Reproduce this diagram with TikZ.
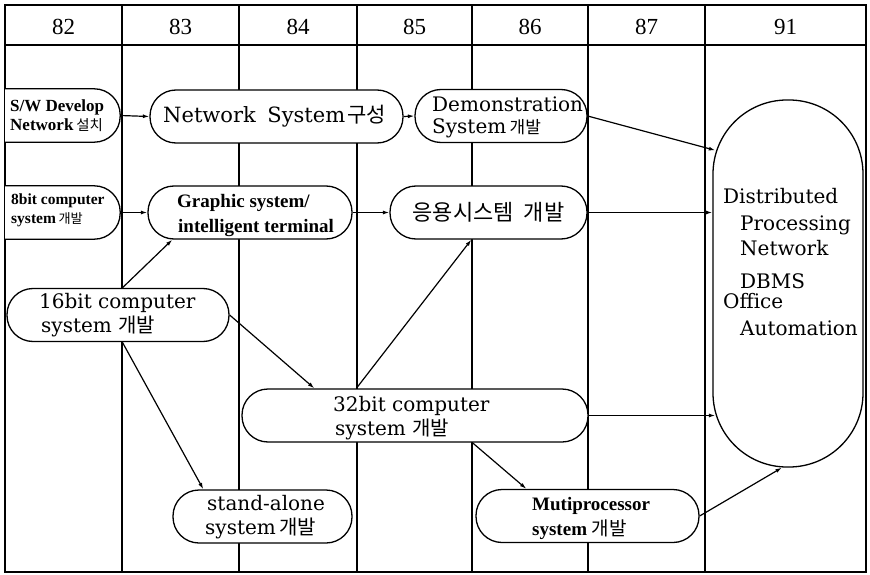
\documentclass[tikz,border=0pt]{standalone}
\usepackage{fontspec}
\setmainfont{Liberation Serif}
\newfontfamily\wideserif{DejaVu Serif}
\newfontfamily\hangul{Noto Sans CJK KR}
\newfontfamily\hangulsmall[Scale=0.85]{Noto Sans CJK KR}
\usetikzlibrary{arrows.meta}
\newcommand\hg[1]{{\hangul\mdseries #1}}
\newcommand\hgs[1]{{\hangulsmall\mdseries #1}}

\begin{document}
\begin{tikzpicture}[x=1pt,y=-1pt,
  rule/.style={line width=1.3pt},
  pill/.style={draw, fill=white, line width=1.3pt, rounded corners=26pt,
    minimum width=#1, minimum height=53pt, inner sep=0pt},
  halfpill/.style={fill=white, minimum width=#1, minimum height=53pt, inner sep=0pt},
  t/.style={anchor=base west, inner sep=0pt},
  hdr/.style={anchor=base, inner sep=0pt, font=\fontsize{23}{25}\selectfont},
  boldsmall/.style={font=\fontsize{17}{19}\selectfont\bfseries},
  boldtiny/.style={font=\fontsize{15.5}{18}\selectfont\bfseries},
  boldmid/.style={font=\fontsize{19}{21}\selectfont\bfseries},
  wide/.style={font=\wideserif\fontsize{20}{22}\selectfont},
  widebig/.style={font=\wideserif\fontsize{21}{23}\selectfont},
  arr/.style={line width=1.2pt, -{Latex[length=6.5pt,width=4pt]}},
]
\useasboundingbox (0,0) rectangle (870,575);

% table frame, header row and year columns
\draw[rule] (5,5) rectangle (866,572);
\draw[rule] (5,45) -- (866,45);
\foreach \cx in {122,239,357,472,588,705}
  \draw[rule] (\cx,5) -- (\cx,572);

% year headings
\node[hdr] (h82) at (63.5,35) {82};
\node[hdr] (h83) at (180.5,35) {83};
\node[hdr] (h84) at (298,35) {84};
\node[hdr] (h85) at (414.5,35) {85};
\node[hdr] (h86) at (530,35) {86};
\node[hdr] (h87) at (646.5,35) {87};
\node[hdr] (h91) at (785.5,35) {91};

% boxes that start at the left edge of the table (rounded on the right only)
\node[halfpill=115pt] (sw) at (62.5,115.5) {};
\draw[rule, rounded corners=26pt] (sw.north west) -- (sw.north east) -- (sw.south east) -- (sw.south west);
\node[halfpill=115pt] (b8) at (62.5,212.5) {};
\draw[rule, rounded corners=26pt] (b8.north west) -- (b8.north east) -- (b8.south east) -- (b8.south west);

% project boxes
\node[pill=253pt] (net) at (276.5,116.5) {};
\node[pill=172pt] (demo) at (501,116) {};
\node[pill=204pt] (gra) at (250,212.5) {};
\node[pill=197pt] (app) at (488.5,212.5) {};
\node[pill=222pt] (b16) at (118,315) {};
\node[pill=346pt] (b32) at (415,415.5) {};
\node[pill=179pt] (sta) at (262.5,516.5) {};
\node[pill=223pt] (mut) at (587.5,516) {};
\node[draw, fill=white, line width=1.3pt, rounded corners=74pt,
  minimum width=150pt, minimum height=367pt, inner sep=0pt] (big) at (788,283.5) {};

% connectors
\draw[arr] (sw.east) -- (net.west);
\draw[arr] (net.east) -- (demo.west);
\draw[arr] (demo.east) -- ([shift={(3,51)}]big.north west);
\draw[arr] (b8.east) -- (gra.west);
\draw[arr] (gra.east) -- (app.west);
\draw[arr] (app.east) -- (app.east -| big.west);
\draw[arr] ([shift={(116,0)}]b16.north west) -- ([shift={(25,0)}]gra.south west);
\draw[arr] (b16.east) -- ([shift={(73,0)}]b32.north west);
\draw[arr] ([shift={(116,0)}]b16.south west) -- ([shift={(31,0)}]sta.north west);
\draw[arr] ([shift={(115,0)}]b32.north west) -- ([shift={(82,0)}]app.south west);
\draw[arr] (b32.east) -- ([shift={(3,0)}]b32.east -| big.west);
\draw[arr] ([shift={(231,0)}]b32.south west) -- ([shift={(51,0)}]mut.north west);
\draw[arr] (mut.east) -- ([shift={(-6,0)}]big.south);

% box texts
\node[t, boldsmall] (sw-1) at (10,112) {S/W Develop};
\node[t, boldsmall] (sw-2) at (10,131) {Network\,\hgs{설치}};
\node[t, boldtiny] (b8-1) at (11,204) {8bit computer};
\node[t, boldtiny] (b8-2) at (11,223) {system\,\hgs{개발}};
\node[t, widebig] (net-1) at (163,123) {Network\hspace{0.55em}System\hspace{0.1em}\hg{구성}};
\node[t, wide] (demo-1) at (432,112) {Demonstration};
\node[t, wide] (demo-2) at (432,134) {System\,\hgs{개발}};
\node[t, boldmid] (gra-1) at (177,207) {Graphic system/};
\node[t, boldmid] (gra-2) at (178,232) {intelligent terminal};
\node[inner sep=0pt, font=\hangul\fontsize{22}{24}\selectfont] (app-1) at (488.5,212.5) {응용시스템\hspace{0.45em}개발};
\node[t, wide] (b16-1) at (39,308) {16bit computer};
\node[t, wide] (b16-2) at (41,332) {system \hg{개발}};
\node[t, wide] (b32-1) at (333,411) {32bit computer};
\node[t, wide] (b32-2) at (335,435) {system \hg{개발}};
\node[t, wide] (sta-1) at (207,510) {stand-alone};
\node[t, wide] (sta-2) at (205,534) {system\,\hg{개발}};
\node[t, boldmid] (mut-1) at (532,510) {Mutiprocessor};
\node[t, boldmid] (mut-2) at (532,535) {system \hg{개발}};

% goal text
\node[t, wide] (g-1) at (723,203) {Distributed};
\node[t, wide] (g-2) at (740,230) {Processing};
\node[t, wide] (g-3) at (740,255) {Network};
\node[t, wide] (g-4) at (740,288) {DBMS};
\node[t, wide] (g-5) at (723,308) {Office};
\node[t, wide] (g-6) at (740,335) {Automation};
\end{tikzpicture}
\end{document}
